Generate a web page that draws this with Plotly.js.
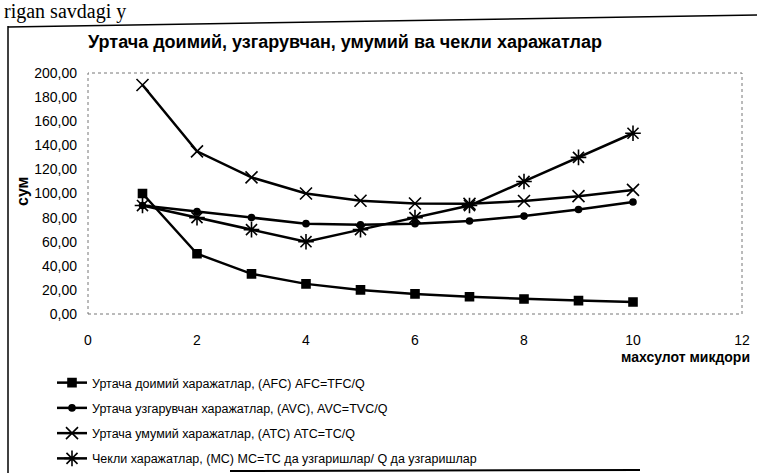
<!DOCTYPE html>
<html>
<head>
<meta charset="utf-8">
<script src="https://cdn.plot.ly/plotly-3.0.1.min.js"></script>
<style>
html,body{margin:0;padding:0;background:#fff;}
#chart{width:757px;height:473px;}
</style>
</head>
<body>
<div id="chart"></div>
<script>
// Quantity of output
const quantity = [1, 2, 3, 4, 5, 6, 7, 8, 9, 10];
// Average fixed cost (AFC = TFC/Q)
const afc = [100, 50, 33.33, 25, 20, 16.67, 14.29, 12.5, 11.11, 10];
// Average variable cost (AVC = TVC/Q)
const avc = [90, 85, 80, 75, 74, 75, 77.14, 81.25, 86.67, 93];
// Average total cost (ATC = TC/Q)
const atc = [190, 135, 113.33, 100, 94, 91.67, 91.43, 93.75, 97.78, 103];
// Marginal cost (MC)
const mc = [90, 80, 70, 60, 70, 80, 90, 110, 130, 150];

const seriesNames = [
  "Уртача доимий харажатлар, (AFC) AFC=TFC/Q",
  "Уртача узгарувчан харажатлар, (AVC), AVC=TVC/Q",
  "Уртача умумий харажатлар, (ATC) ATC=TC/Q",
  "Чекли харажатлар, (MC) MC=TC да узгаришлар/ Q да узгаришлар"
];
const chartTitle = "Уртача доимий, узгарувчан, умумий ва чекли харажатлар";
const yTitle = "сум";
const xTitle = "махсулот микдори";
const headerText = "rigan savdagi y";

const FONT = "'Liberation Sans Narrow', 'Liberation Sans', Arial, sans-serif";

// plot area in pixels
const L = 88, R = 742, T = 73, B = 314;
const W = R - L, H = B - T;
const px = x => (x - L) / W;
const py = y => (B - y) / H;

function tr(y, name, symbol, size, grp) {
  return {
    x: quantity, y: y, name: name, type: 'scatter', mode: 'lines+markers',
    legendgroup: grp,
    line: {color: '#000', width: 2.5},
    marker: {symbol: symbol, size: size, color: '#000',
             line: {color: '#000', width: 1.6}}
  };
}

const data = [
  tr(afc, seriesNames[0], 'square', 8, 'a'),
  tr(avc, seriesNames[1], 'circle', 6, 'b'),
  tr(atc, seriesNames[2], 'x-thin', 12, 'c'),
  tr(mc, seriesNames[3], 'asterisk', 13, 'd')
];

const layout = {
  width: 757, height: 473,
  margin: {l: L, r: 757 - R, t: T, b: 473 - B, pad: 0, autoexpand: false},
  paper_bgcolor: '#fff', plot_bgcolor: '#fff',
  separators: ', ',
  font: {family: FONT, color: '#000', size: 13},
  title: {text: '<b>' + chartTitle + '</b>', x: 345 / 757, xanchor: 'center',
          y: 1 - 42 / 473, yanchor: 'middle', yref: 'container',
          font: {family: FONT, size: 18, color: '#000'}},
  xaxis: {range: [0, 12], dtick: 2, tick0: 0, showgrid: false, zeroline: false,
          showline: false, ticks: '', ticklabelstandoff: 16, automargin: false,
          tickfont: {family: FONT, size: 14, color: '#000'}},
  yaxis: {range: [0, 200], dtick: 20, tick0: 0, tickformat: '.2f', showgrid: false,
          zeroline: false, showline: false, ticks: '', ticklabelstandoff: 10, automargin: false,
          tickfont: {family: FONT, size: 14, color: '#000'}},
  showlegend: true,
  legend: {x: px(52), xanchor: 'left', y: py(368), yanchor: 'top',
           traceorder: 'grouped', tracegroupgap: 6, bgcolor: 'rgba(0,0,0,0)',
           font: {family: FONT, size: 12.5, color: '#000'}, itemwidth: 30},
  shapes: [
    {type: 'rect', xref: 'paper', yref: 'paper', x0: 0, x1: 1, y0: 0, y1: 1,
     line: {color: '#777', width: 1, dash: 'dot'}},
    {type: 'line', xref: 'paper', yref: 'paper', x0: px(8), x1: px(8), y0: py(26), y1: py(473),
     line: {color: '#000', width: 1.5}},
    {type: 'line', xref: 'paper', yref: 'paper', x0: px(8), x1: px(757), y0: py(27), y1: py(15),
     line: {color: '#000', width: 1.5}},
    {type: 'line', xref: 'paper', yref: 'paper', x0: px(230), x1: px(640), y0: py(471), y1: py(470),
     line: {color: '#000', width: 2}}
  ],
  annotations: [
    {text: '<b>' + yTitle + '</b>', xref: 'paper', yref: 'paper', x: px(22), y: py(192),
     textangle: -90, showarrow: false, xanchor: 'center', yanchor: 'middle',
     font: {family: FONT, size: 16, color: '#000'}},
    {text: '<b>' + xTitle + '</b>', xref: 'paper', yref: 'paper', x: px(752), y: py(357),
     showarrow: false, xanchor: 'right', yanchor: 'middle',
     font: {family: FONT, size: 14, color: '#000'}},
    {text: headerText, xref: 'paper', yref: 'paper', x: px(2), y: py(11),
     showarrow: false, xanchor: 'left', yanchor: 'middle',
     font: {family: "'Liberation Serif', 'DejaVu Serif', serif", size: 20, color: '#000'}}
  ]
};

Plotly.newPlot('chart', data, layout, {displayModeBar: false, staticPlot: true});
</script>
</body>
</html>
